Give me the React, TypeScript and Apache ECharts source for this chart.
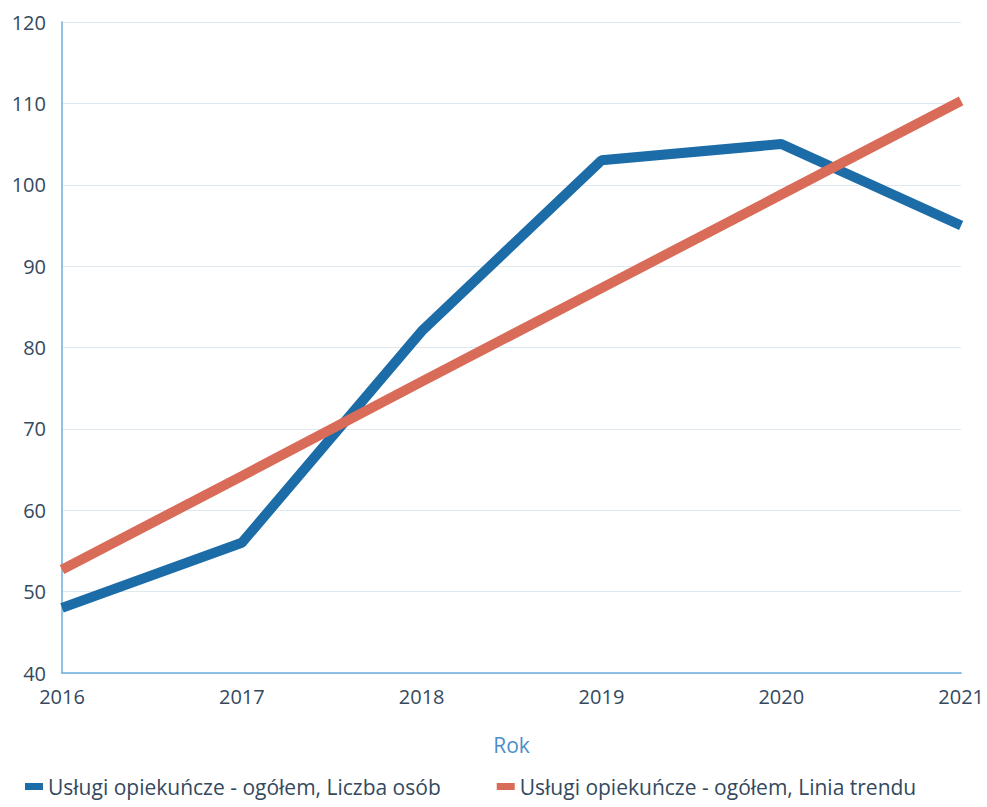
import React, { useEffect, useRef } from "react";
import * as echarts from "echarts";

const years = ["2016", "2017", "2018", "2019", "2020", "2021"];
const liczbaOsob = [48, 56, 82, 103, 105, 95];
const liniaTrendu = [52.7, 64.2, 75.8, 87.3, 98.8, 110.3];
const seriesNames = [
  "Usługi opiekuńcze - ogółem, Liczba osób",
  "Usługi opiekuńcze - ogółem, Linia trendu",
];

export default function App() {
  const ref = useRef<HTMLDivElement>(null);
  useEffect(() => {
    if (!ref.current) return;
    const chart = echarts.init(ref.current, undefined, { renderer: "svg" });
    const textColor = "#34495e";
    chart.setOption({
      animation: false,
      textStyle: { fontFamily: "Open Sans" },
      grid: { left: 62, right: 25, top: 22, bottom: 134, containLabel: false },
      legend: {
        left: 25,
        top: 776,
        padding: 0,
        itemWidth: 18,
        itemHeight: 7,
        itemGap: 56,
        icon: "rect",
        textStyle: { fontSize: 21, color: textColor, fontFamily: "Open Sans" },
        data: seriesNames,
      },
      xAxis: {
        type: "category",
        data: years,
        boundaryGap: false,
        name: "Rok",
        nameLocation: "middle",
        nameGap: 61,
        nameTextStyle: { fontSize: 21, color: "#4a8fc9", fontFamily: "Open Sans" },
        axisLine: { show: true, lineStyle: { color: "#6aaedc", width: 1.5 } },
        axisTick: { show: false },
        axisLabel: { fontSize: 20, color: textColor, margin: 13, fontFamily: "Open Sans" },
        splitLine: { show: false },
      },
      yAxis: {
        type: "value",
        min: 40,
        max: 120,
        interval: 10,
        axisLine: { show: true, lineStyle: { color: "#6aaedc", width: 1.5 } },
        axisTick: { show: false },
        axisLabel: { fontSize: 20, color: textColor, margin: 16, fontFamily: "Open Sans" },
        splitLine: { show: true, lineStyle: { color: "#dfe8ee", width: 1 } },
      },
      series: [
        {
          name: seriesNames[0],
          type: "line",
          data: liczbaOsob,
          symbol: "none",
          color: "#1c6ca8",
          lineStyle: { width: 10, color: "#1c6ca8" },
          z: 2,
        },
        {
          name: seriesNames[1],
          type: "line",
          data: liniaTrendu,
          symbol: "none",
          color: "#d96c58",
          lineStyle: { width: 10, color: "#d96c58" },
          z: 3,
        },
      ],
    });
    return () => chart.dispose();
  }, []);
  return <div ref={ref} style={{ width: 987, height: 807, position: "absolute", left: 0, top: 0 }} />;
}
